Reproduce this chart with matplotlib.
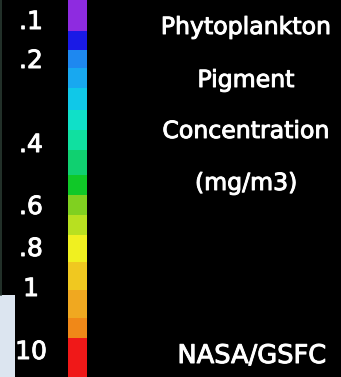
import matplotlib
matplotlib.use("Agg")
import matplotlib.pyplot as plt
from matplotlib.patches import Rectangle
import matplotlib.patheffects as pe

# Colour scale segments (top to bottom)
seg_colors = ["#8E2BE0", "#1A1AE6", "#1E88F0", "#18A8F0", "#10C8E8", "#10E0C8",
              "#10E0A0", "#10D070", "#10C828", "#80D020", "#B8E020", "#F0F020",
              "#F0C820", "#F0A820", "#F08818", "#F01818"]
seg_bounds = [0, 31, 50, 68, 88, 110, 130, 150, 175, 195, 215, 235, 262, 290, 318, 338, 377]

tick_labels = [".1", ".2", ".4", ".6", ".8", "1", "10"]
tick_pos = [22, 61, 145, 207, 249, 289, 352]

title_lines = ["Phytoplankton", "Pigment", "Concentration", "(mg/m3)"]
title_pos = [27, 80, 131, 183]
credit = "NASA/GSFC"

W, H = 341, 377
fig = plt.figure(figsize=(W / 100, H / 100), dpi=100, facecolor="black")
ax = fig.add_axes([0, 0, 1, 1])
ax.set_facecolor("black")
ax.set_xlim(0, W)
ax.set_ylim(H, 0)
ax.axis("off")

heights = [b - a for a, b in zip(seg_bounds[:-1], seg_bounds[1:])]
ax.bar([77.5] * len(heights), heights, bottom=seg_bounds[:-1], width=19,
       color=seg_colors, linewidth=0)

thick = [pe.withStroke(linewidth=0.7, foreground="white")]

for lab, y in zip(tick_labels, tick_pos):
    ax.text(31, y, lab, color="white", fontsize=18, ha="center", va="center",
            family="DejaVu Sans", path_effects=thick)

for line, y in zip(title_lines, title_pos):
    ax.text(246, y, line, color="white", fontsize=17, ha="center",
            va="center", family="DejaVu Sans", path_effects=thick)

ax.text(252, 356, credit, color="white", fontsize=18.5, ha="center",
        va="center", family="DejaVu Sans", path_effects=thick)

# light panel at bottom-left and thin left border
ax.add_patch(Rectangle((0, 295), 15, 82, facecolor="#DCE5F0", edgecolor="none"))
ax.plot([0.8, 0.8], [0, 295], color="#2A3A32", linewidth=1.2)

fig.savefig("out.png", dpi=100, facecolor="black")
